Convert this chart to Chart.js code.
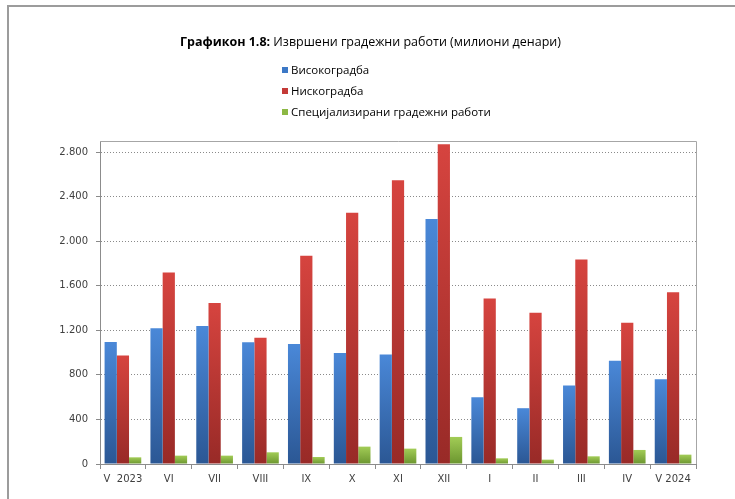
<!DOCTYPE html>
<html>
<head>
<meta charset="utf-8">
<script src="https://cdn.jsdelivr.net/npm/chart.js@4.4.1/dist/chart.umd.min.js"></script>
<style>
  body { margin: 0; background: #fff; }
  #wrap { position: relative; width: 735px; height: 499px; overflow: hidden; }
  #frame { position: absolute; left: 7px; top: 5px; width: 740px; height: 500px;
           border-top: 2px solid #9c9c9c; border-left: 2px solid #9c9c9c; }
  #chart { position: absolute; left: 0; top: 0; }
  #titulo { position: absolute; left: 0; top: 33px; width: 741px; text-align: center;
            font-family: "Open Sans", sans-serif; font-size: 12.5px; color: #000; }
  #legenda { position: absolute; left: 282px; top: 61px;
             font-family: "Open Sans", sans-serif; font-size: 11.5px; color: #000; }
  #legenda div { height: 21px; line-height: 18px; }
  #legenda span.box { display: inline-block; width: 6px; height: 6px; margin-right: 3px; vertical-align: 1px; }
</style>
</head>
<body>
<div id="wrap">
  <div id="frame"></div>
  <canvas id="chart" width="735" height="499"></canvas>
  <div id="titulo"><b>Графикон 1.8:</b> Извршени градежни работи (милиони денари)</div>
  <div id="legenda"></div>
</div>
<script>
// meseci (kategorii)
const meseci = ["V  2023", "VI", "VII", "VIII", "IX", "X", "XI", "XII", "I", "II", "III", "IV", "V 2024"];

// vrednosti procitani od grafikonot
const visokogradba = [1095, 1218, 1239, 1092, 1077, 996, 984, 2199, 600, 501, 705, 927, 762];
const niskogradba = [975, 1719, 1446, 1134, 1869, 2256, 2547, 2871, 1485, 1359, 1836, 1269, 1542];
const specijalizirani = [60, 75, 75, 105, 63, 156, 138, 243, 51, 39, 69, 126, 84];

// podelbi na y oskata
const yPodelbi = [0, 400, 800, 1200, 1600, 2000, 2400, 2800];

const iminja = ["Високоградба", "Нискоградба", "Специјализирани градежни работи"];
const boi = ["#3c78c6", "#c43a37", "#8cb844"];

// gradient po stolb: posvetlo gore, potemno dole
function gradient(gore, dole) {
  return function (ctx) {
    const chart = ctx.chart;
    const area = chart.chartArea;
    if (!area || !ctx.parsed || !chart.scales.y) return gore;
    const y0 = chart.scales.y.getPixelForValue(0);
    const y1 = chart.scales.y.getPixelForValue(ctx.parsed.y);
    if (!isFinite(y1) || y0 - y1 < 1) return gore;
    const g = chart.ctx.createLinearGradient(0, y1, 0, y0);
    g.addColorStop(0, gore);
    g.addColorStop(1, dole);
    return g;
  };
}

// ramka okolu plot area
const ramka = {
  id: "ramka",
  beforeDatasetsDraw(chart) {
    const a = chart.chartArea;
    const c = chart.ctx;
    c.save();
    c.strokeStyle = "#a6a6a6";
    c.lineWidth = 1;
    c.beginPath();
    c.moveTo(a.left, a.top + 0.5);
    c.lineTo(a.right + 0.5, a.top + 0.5);
    c.lineTo(a.right + 0.5, a.bottom);
    c.stroke();
    c.restore();
  }
};

function tocka(v) {
  return String(v).replace(/\B(?=(\d{3})+(?!\d))/g, ".");
}

const data = {
  labels: meseci,
  datasets: [
    { label: iminja[0], data: visokogradba, backgroundColor: gradient("#4a88d8", "#2b5794") },
    { label: iminja[1], data: niskogradba, backgroundColor: gradient("#d6443f", "#982a27") },
    { label: iminja[2], data: specijalizirani, backgroundColor: gradient("#a2cc56", "#6b952f") }
  ]
};

const config = {
  type: "bar",
  data,
  options: {
    responsive: false,
    animation: false,
    datasets: { bar: { barPercentage: 1, categoryPercentage: 0.8 } },
    layout: { padding: { top: 141, right: 39, left: 0, bottom: 0 } },
    plugins: {
      legend: { display: false },
      title: { display: false },
      tooltip: { enabled: false }
    },
    scales: {
      x: {
        afterFit: function (s) { s.height = 35; },
        grid: { offset: true, drawOnChartArea: false, drawTicks: true, tickLength: 5, color: "#8c8c8c" },
        border: { display: true, color: "#8c8c8c", width: 1 },
        ticks: { color: "#404040", padding: 4, font: { family: "DejaVu Sans", size: 10 } }
      },
      y: {
        min: 0,
        max: 2900,
        afterFit: function (s) { s.width = 100; },
        afterBuildTicks: function (s) { s.ticks = yPodelbi.map(function (v) { return { value: v }; }); },
        grid: { color: "#8a8a8a", tickLength: 4 },
        border: { display: true, color: "#8c8c8c", width: 1, dash: [1, 2] },
        ticks: {
          color: "#404040",
          padding: 8,
          font: { family: "DejaVu Sans", size: 10 },
          callback: function (v) { return tocka(v); }
        }
      }
    }
  },
  plugins: [ramka]
};

const ctx = document.getElementById("chart");
const myChart = new Chart(ctx, config);

// legenda (vertikalna, kako vo originalot)
const leg = document.getElementById("legenda");
for (var i = 0; i < iminja.length; i++) {
  var red = document.createElement("div");
  red.innerHTML = '<span class="box" style="background:' + boi[i] + '"></span>' + iminja[i];
  leg.appendChild(red);
}
</script>
</body>
</html>
